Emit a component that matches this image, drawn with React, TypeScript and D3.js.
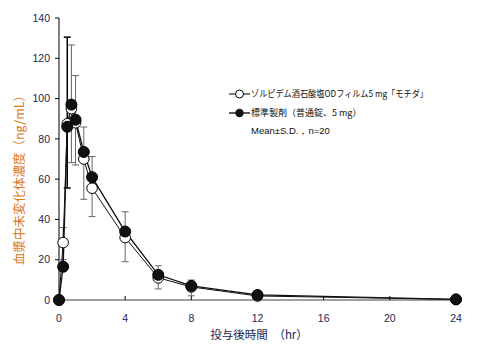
import React from 'react';
import * as d3 from 'd3';

// time points (hr)
const times = [0, 0.25, 0.5, 0.75, 1, 1.5, 2, 4, 6, 8, 12, 24];
// ゾルピデム酒石酸塩ODフィルム (open circles)
const odfMeans = [0, 28.5, 87.5, 95, 88, 70, 55.5, 31, 11, 6.5, 2, 0.3];
// 標準製剤 (filled circles)
const stdMeans = [0, 16.5, 86, 97, 89.5, 73.5, 61, 34, 12.5, 7, 2.5, 0.3];
// S.D. bars
const barTimes = [0.25, 0.5, 0.75, 1, 1.5, 2, 4, 6, 8];
const barLow = [20, 55.6, 68.2, 67, 50, 41.4, 19, 5.5, 2.1];
const barHigh = [36, 130.5, 126.6, 111.4, 85.9, 71.2, 43.8, 17, 9.9];

const yTicks = [0, 20, 40, 60, 80, 100, 120, 140];
const xTicks = [0, 4, 8, 12, 16, 20, 24];

const legendOdf = 'ゾルピデム酒石酸塩ODフィルム5 mg「モチダ」';
const legendStd = '標準製剤（普通錠、5 mg）';
const legendNote = 'Mean±S.D.，n=20';
const yTitle = '血漿中未変化体濃度（ng/mL）';
const xTitle = '投与後時間　（hr）';

const W = 483, H = 354;
const margin = { left: 59, right: 27, top: 18, bottom: 54 };
const numFont = '"Liberation Sans", Arial, sans-serif';
const jpFont = '"Noto Sans CJK JP", sans-serif';
const navy = '#1d2553';

export default function App() {
    const x = d3.scaleLinear().domain([0, 24]).range([margin.left, W - margin.right]);
    const y = d3.scaleLinear().domain([0, 140]).range([H - margin.bottom, margin.top]);

    const line = d3.line<number>()
        .x((d, i) => x(times[i]))
        .y(d => y(d));

    return (
        <svg width={W} height={H} style={{ position: 'absolute', left: 0, top: 0 }}>
            <rect width={W} height={H} fill="#fff" />
            {/* y axis */}
            <line x1={x(0)} x2={x(0)} y1={y(140)} y2={y(0)} stroke="#000" strokeWidth={1} />
            {yTicks.map(t => (
                <g key={'y' + t}>
                    <line x1={x(0) - 4} x2={x(0)} y1={y(t)} y2={y(t)} stroke="#000" />
                    <text x={x(0) - 9} y={y(t)} dy="0.35em" textAnchor="end"
                          fontSize={10.5} fontFamily={numFont} fill={navy}>{t}</text>
                </g>
            ))}
            {/* x axis */}
            <line x1={x(0)} x2={x(24)} y1={y(0)} y2={y(0)} stroke="#a0a0a0" strokeWidth={2} />
            {xTicks.map(t => (
                <g key={'x' + t}>
                    <line x1={x(t)} x2={x(t)} y1={y(0) - 4} y2={y(0)} stroke="#000" />
                    <text x={x(t)} y={y(0) + 22} textAnchor="middle"
                          fontSize={10.5} fontFamily={numFont} fill={navy}>{t}</text>
                </g>
            ))}
            <text x={259} y={339} textAnchor="middle" fontSize={11.5} fontFamily={jpFont} fill={navy}>{xTitle}</text>
            <text transform={`translate(24,177) rotate(-90)`} textAnchor="middle"
                  fontSize={12.5} fontFamily={jpFont} fill="#db7a1c">{yTitle}</text>

            {/* S.D. bars */}
            {barTimes.map((t, i) => (
                <g key={'e' + i} stroke={i === 1 ? '#000' : '#666'} strokeWidth={i === 1 ? 1.5 : 1}>
                    <line x1={x(t)} x2={x(t)} y1={y(barLow[i])} y2={y(barHigh[i])} />
                    <line x1={x(t) - 3.5} x2={x(t) + 3.5} y1={y(barLow[i])} y2={y(barLow[i])} />
                    <line x1={x(t) - 3.5} x2={x(t) + 3.5} y1={y(barHigh[i])} y2={y(barHigh[i])} />
                </g>
            ))}

            {/* series lines */}
            <path d={line(odfMeans) || ''} fill="none" stroke="#111" strokeWidth={1} />
            <path d={line(stdMeans) || ''} fill="none" stroke="#111" strokeWidth={1.3} />
            {odfMeans.map((v, i) => (
                <circle key={'o' + i} cx={x(times[i])} cy={y(v)} r={5.3} fill="#fff" stroke="#000" strokeWidth={1} />
            ))}
            {stdMeans.map((v, i) => (
                <circle key={'s' + i} cx={x(times[i])} cy={y(v)} r={5.5} fill="#111" stroke="#000" strokeWidth={1} />
            ))}

            {/* legend */}
            <g fontFamily={jpFont} fontSize={9} fill="#111">
                <line x1={229} x2={250} y1={94} y2={94} stroke="#000" />
                <circle cx={239.5} cy={94} r={4} fill="#fff" stroke="#000" />
                <text x={251} y={94} dy="0.35em" textLength={177} lengthAdjust="spacingAndGlyphs">{legendOdf}</text>
                <line x1={229} x2={250} y1={113} y2={113} stroke="#000" strokeWidth={1.3} />
                <circle cx={239.5} cy={113} r={4.2} fill="#111" />
                <text x={251} y={113} dy="0.35em">{legendStd}</text>
                <text x={251} y={131} dy="0.35em" fontFamily={numFont} fontSize={9.5}>{legendNote}</text>
            </g>
        </svg>
    );
}
